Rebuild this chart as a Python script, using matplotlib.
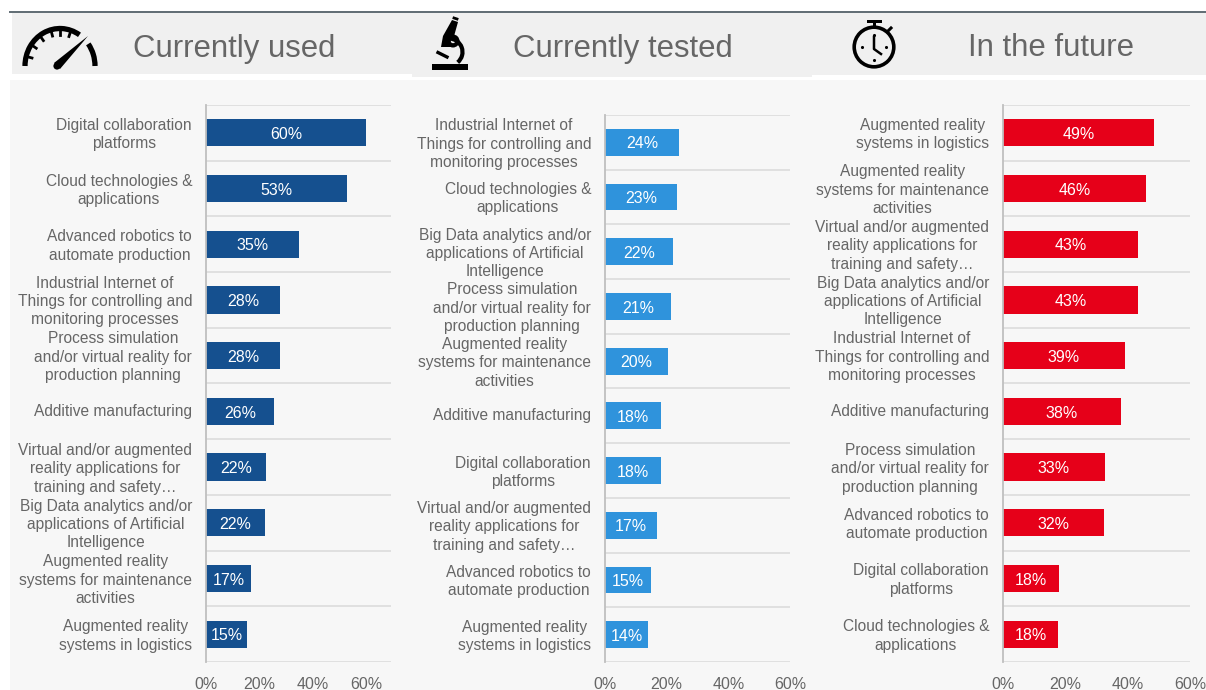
import numpy as np
import matplotlib
matplotlib.use('Agg')
import matplotlib.pyplot as plt
from matplotlib.patches import Rectangle, Circle, Arc, Polygon
from matplotlib.transforms import ScaledTranslation

plt.rcParams['font.family'] = ['Liberation Sans', 'DejaVu Sans']

W, H = 1206, 690

labels_used = ['Digital collaboration\nplatforms', 'Cloud technologies &\napplications',
               'Advanced robotics to\nautomate production',
               'Industrial Internet of\nThings for controlling and\nmonitoring processes',
               'Process simulation\nand/or virtual reality for\nproduction planning',
               'Additive manufacturing',
               'Virtual and/or augmented\nreality applications for\ntraining and safety…',
               'Big Data analytics and/or\napplications of Artificial\nIntelligence',
               'Augmented reality\nsystems for maintenance\nactivities',
               'Augmented reality\nsystems in logistics']
values_used = [60, 53, 35, 27.7, 27.7, 25.6, 22.4, 22, 17, 15.3]

labels_tested = ['Industrial Internet of\nThings for controlling and\nmonitoring processes',
                 'Cloud technologies &\napplications',
                 'Big Data analytics and/or\napplications of Artificial\nIntelligence',
                 'Process simulation\nand/or virtual reality for\nproduction planning',
                 'Augmented reality\nsystems for maintenance\nactivities',
                 'Additive manufacturing',
                 'Digital collaboration\nplatforms',
                 'Virtual and/or augmented\nreality applications for\ntraining and safety…',
                 'Advanced robotics to\nautomate production',
                 'Augmented reality\nsystems in logistics']
values_tested = [24, 23.2, 22.2, 21.3, 20.4, 18.2, 18.2, 17, 14.8, 13.9]

labels_future = ['Augmented reality\nsystems in logistics',
                 'Augmented reality\nsystems for maintenance\nactivities',
                 'Virtual and/or augmented\nreality applications for\ntraining and safety…',
                 'Big Data analytics and/or\napplications of Artificial\nIntelligence',
                 'Industrial Internet of\nThings for controlling and\nmonitoring processes',
                 'Additive manufacturing',
                 'Process simulation\nand/or virtual reality for\nproduction planning',
                 'Advanced robotics to\nautomate production',
                 'Digital collaboration\nplatforms',
                 'Cloud technologies &\napplications']
values_future = [48.6, 45.9, 43.3, 43.3, 39.1, 37.9, 32.7, 32.4, 18, 17.6]

xticks = [0, 20, 40, 60]
titles = ['Currently used', 'Currently tested', 'In the future']
colors = ['#15508f', '#2f93dc', '#e60019']

GREY = '#666666'
LINE = '#d9d9d9'


def px_axes(fig, x0, x1, y0, y1, **kw):
    # pixel box, y counted from the top of the picture
    return fig.add_axes([x0 / W, 1 - y1 / H, (x1 - x0) / W, (y1 - y0) / H], **kw)


def bar_panel(fig, box, xmax, labels, values, color):
    ax = px_axes(fig, *box)
    ax.patch.set_visible(False)
    y = np.arange(len(values))
    ax.barh(y, values, height=0.49, color=color)
    for yi, v in zip(y, values):
        ax.text(v / 2, yi + 0.03, f'{round(v)}%', ha='center', va='center', color='white', fontsize=11.5)
    ax.set_xlim(0, xmax)
    ax.set_ylim(len(values) - 0.5, -0.5)
    ax.set_xticks(xticks, [f'{t}%' for t in xticks])
    ax.set_yticks(y, labels, multialignment='center', linespacing=1.28)
    ax.set_yticks(np.arange(len(values) + 1) - 0.5, minor=True)
    ax.grid(which='minor', axis='y', color=LINE, lw=1.1)
    ax.set_axisbelow(True)
    ax.tick_params(axis='y', which='both', length=0, pad=10, labelsize=11.2, labelcolor=GREY)
    ax.tick_params(axis='x', length=0, pad=10.5, labelsize=11.5, labelcolor=GREY)
    # labels sit a little higher than the bar centre
    up = ScaledTranslation(0, 1.5 / 100, fig.dpi_scale_trans)
    for lab in ax.get_yticklabels():
        lab.set_transform(lab.get_transform() + up)
    for s in ['top', 'right', 'bottom']:
        ax.spines[s].set_visible(False)
    ax.spines['left'].set_color('#bfbfbf')
    ax.spines['left'].set_linewidth(1.3)
    return ax


def draw_gauge(bg):
    c = (60, 66)
    bg.add_patch(Arc(c, 70, 75, theta1=180, theta2=302, lw=3.8, color='k'))
    bg.add_patch(Arc(c, 70, 75, theta1=322, theta2=360, lw=3.8, color='k'))
    for a in [165, 145, 125, 105, 90, 72]:
        t = np.radians(a)
        bg.plot([c[0] + 33 * np.cos(t), c[0] + 29 * np.cos(t)],
                [c[1] - 35 * np.sin(t), c[1] - 31 * np.sin(t)], color='k', lw=2)
    bg.add_patch(Polygon([(54, 63), (60, 69), (88, 36)], color='k', lw=0))
    bg.add_patch(Circle((57, 66), 3.6, color='k', lw=0))


def draw_microscope(bg):
    bg.add_patch(Rectangle((431.5, 64), 36, 6, color='k', lw=0))
    bg.add_patch(Polygon([(452, 20), (458, 22), (451, 47), (441, 47), (443, 36)], color='k', lw=0))
    bg.plot([454, 457], [18, 19], color='k', lw=2)
    bg.add_patch(Circle((453, 41), 6.5, color='k', lw=0))
    bg.add_patch(Circle((453, 41), 2.8, facecolor='#f0f0f0', edgecolor='k', lw=0.8))
    bg.add_patch(Arc((449, 52), 27, 27, theta1=-90, theta2=50, lw=3, color='k'))
    bg.plot([438, 447], [52.5, 57], color='k', lw=2.4)


def draw_watch(bg):
    c = (874, 47)
    bg.add_patch(Circle(c, 19.8, fill=False, edgecolor='k', lw=2.6))
    bg.add_patch(Rectangle((867, 19.5), 15, 3.5, color='k', lw=0))
    bg.add_patch(Rectangle((872.5, 22), 3.5, 6, color='k', lw=0))
    bg.plot([888, 891], [31, 28], color='k', lw=2.2)
    bg.plot([874, 874, 881], [37, 49, 54], color='k', lw=1.8)
    bg.scatter([874, 862, 886, 874], [60, 47, 47, 35], s=5, color='k', lw=0)


fig = plt.figure(figsize=(W / 100, H / 100), dpi=100, facecolor='w')

bg = fig.add_axes([0, 0, 1, 1])
bg.set_xlim(0, W)
bg.set_ylim(H, 0)
bg.axis('off')
bg.add_patch(Rectangle((12, 13), 400, 61, color='#f0f0f0', lw=0))
bg.add_patch(Rectangle((412, 13), 400, 64, color='#f0f0f0', lw=0))
bg.add_patch(Rectangle((812, 13), 394, 62, color='#f0f0f0', lw=0))
bg.add_patch(Rectangle((10, 80), W - 10, H - 80, color='#f7f7f7', lw=0))
bg.plot([10, W], [12, 12], color='#5f6b73', lw=1.4)

draw_gauge(bg)
draw_microscope(bg)
draw_watch(bg)

for cx, title in zip([234, 623, 1051], titles):
    bg.text(cx, 48.5, title, ha='center', va='center', fontsize=22.4, color=GREY)

bar_panel(fig, (206, 391, 105, 662), 69.4, labels_used, values_used, colors[0])
bar_panel(fig, (605, 790, 115, 662), 60, labels_tested, values_tested, colors[1])
bar_panel(fig, (1003, 1190, 105, 662), 60, labels_future, values_future, colors[2])

plt.savefig('out.png', dpi=100, facecolor='w')
